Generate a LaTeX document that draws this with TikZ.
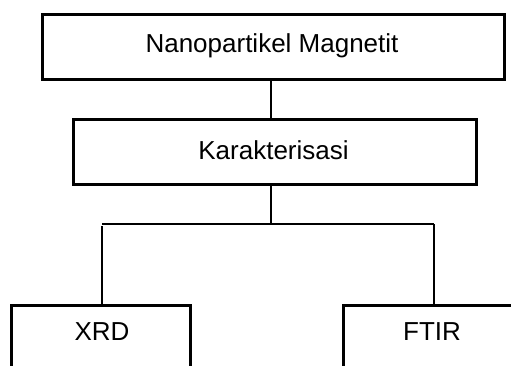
\documentclass[tikz,border=0pt]{standalone}
\usepackage{fontspec}
\setmainfont{Liberation Sans}
\begin{document}
\begin{tikzpicture}[x=1pt,y=-1pt,
  box/.style={draw=black,line width=2.6pt,rectangle,inner sep=0pt,anchor=north west},
  lbl/.style={font=\fontsize{26}{30}\selectfont,inner sep=0pt},
  wire/.style={draw=black,line width=2.4pt}]
\useasboundingbox (0,0) rectangle (511,366);
\clip (0,0) rectangle (511,366);
% boxes
\node[box,minimum width=462pt,minimum height=65pt] (top) at (41,13) {};
\node[lbl] (toptxt) at (272,45.5) {Nanopartikel Magnetit};
\node[box,minimum width=403pt,minimum height=65pt] (kar) at (72,118) {};
\node[lbl] (kartxt) at (273.5,150.5) {Karakterisasi};
\node[box,minimum width=179pt,minimum height=120pt] (xrd) at (10,304) {};
\node[lbl] (xrdtxt) at (102,332) {XRD};
\node[box,minimum width=200pt,minimum height=120pt] (ftir) at (342,304) {};
\node[lbl] (ftirtxt) at (432,332) {FTIR};
% junction points of the branch
\coordinate (j) at (271,224);
\coordinate (jl) at (102,224);
\coordinate (jr) at (434,224);
% connectors
\draw[wire] (top.south -| j) -- (kar.north -| j);
\draw[wire] (kar.south -| j) -- (j);
\draw[wire] (jl) -- (jr);
\draw[wire] ([yshift=-2pt]jl) -- (xrd.north -| jl);
\draw[wire] (jr) -- (ftir.north -| jr);
\end{tikzpicture}
\end{document}
